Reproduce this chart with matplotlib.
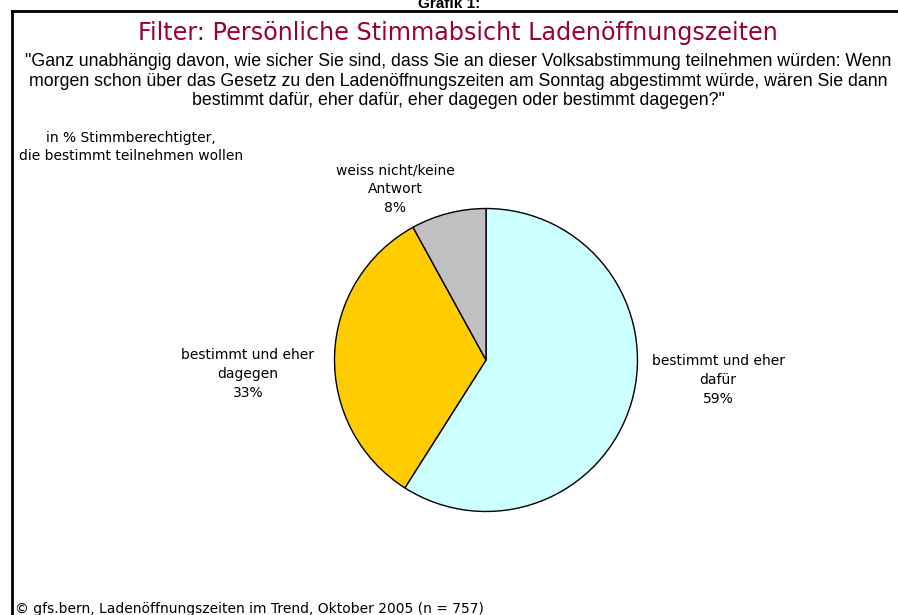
import matplotlib
matplotlib.use('Agg')
from matplotlib import pyplot as plt
from matplotlib.lines import Line2D

# data
categories = ['bestimmt und eher\ndafür', 'bestimmt und eher\ndagegen', 'weiss nicht/keine\nAntwort']
values = [59, 33, 8]
colors = ['#CCFFFF', '#FFCC00', '#C0C0C0']

W, H = 898, 615
fig = plt.figure(figsize=(W / 100, H / 100), dpi=100)
fig.patch.set_facecolor('white')

def px(x, y):
    return x / W, 1 - y / H

# frame lines (top and left)
fig.add_artist(Line2D([12 / W, 1], [1 - 10.5 / H] * 2, color='black', lw=2, transform=fig.transFigure))
fig.add_artist(Line2D([12 / W] * 2, [0, 1 - 10.5 / H], color='black', lw=2, transform=fig.transFigure))

# header texts
fig.text(*px(449, 8.5), 'Grafik 1:', ha='center', va='baseline', fontsize=11, fontweight='bold',
         family='Liberation Sans')
fig.text(*px(458, 33), 'Filter: Persönliche Stimmabsicht Ladenöffnungszeiten', ha='center', va='center',
         fontsize=17.2, color='#990033', family='DejaVu Sans')
question = ('"Ganz unabhängig davon, wie sicher Sie sind, dass Sie an dieser Volksabstimmung teilnehmen würden: Wenn\n'
            'morgen schon über das Gesetz zu den Ladenöffnungszeiten am Sonntag abgestimmt würde, wären Sie dann\n'
            'bestimmt dafür, eher dafür, eher dagegen oder bestimmt dagegen?"')
fig.text(*px(458, 81), question, ha='center', va='center', fontsize=12.8, family='Liberation Sans',
         linespacing=1.16)
fig.text(*px(131, 147), 'in % Stimmberechtigter,\ndie bestimmt teilnehmen wollen', ha='center', va='center',
         fontsize=10, family='DejaVu Sans', linespacing=1.45)
fig.text(*px(15, 609), '© gfs.bern, Ladenöffnungszeiten im Trend, Oktober 2005 (n = 757)', ha='left',
         va='center', fontsize=10, family='DejaVu Sans')

# pie
cx, cy, r = 486, 360, 153
ax = fig.add_axes([(cx - r) / W, (H - cy - r) / H, 2 * r / W, 2 * r / H])
ax.pie(values, colors=colors, startangle=90, counterclock=False, radius=1,
       wedgeprops=dict(edgecolor='black', linewidth=1))
ax.set_xlim(-1.01, 1.01)
ax.set_ylim(-1.01, 1.01)
ax.set_aspect('equal')
ax.axis('off')

label_pos = [(718, 380), (248, 374), (395, 189)]
for cat, v, (lx, ly) in zip(categories, values, label_pos):
    fig.text(*px(lx, ly), f'{cat}\n{v}%', ha='center', va='center', fontsize=10,
             family='DejaVu Sans', linespacing=1.45)

fig.savefig('out.png', dpi=100)
